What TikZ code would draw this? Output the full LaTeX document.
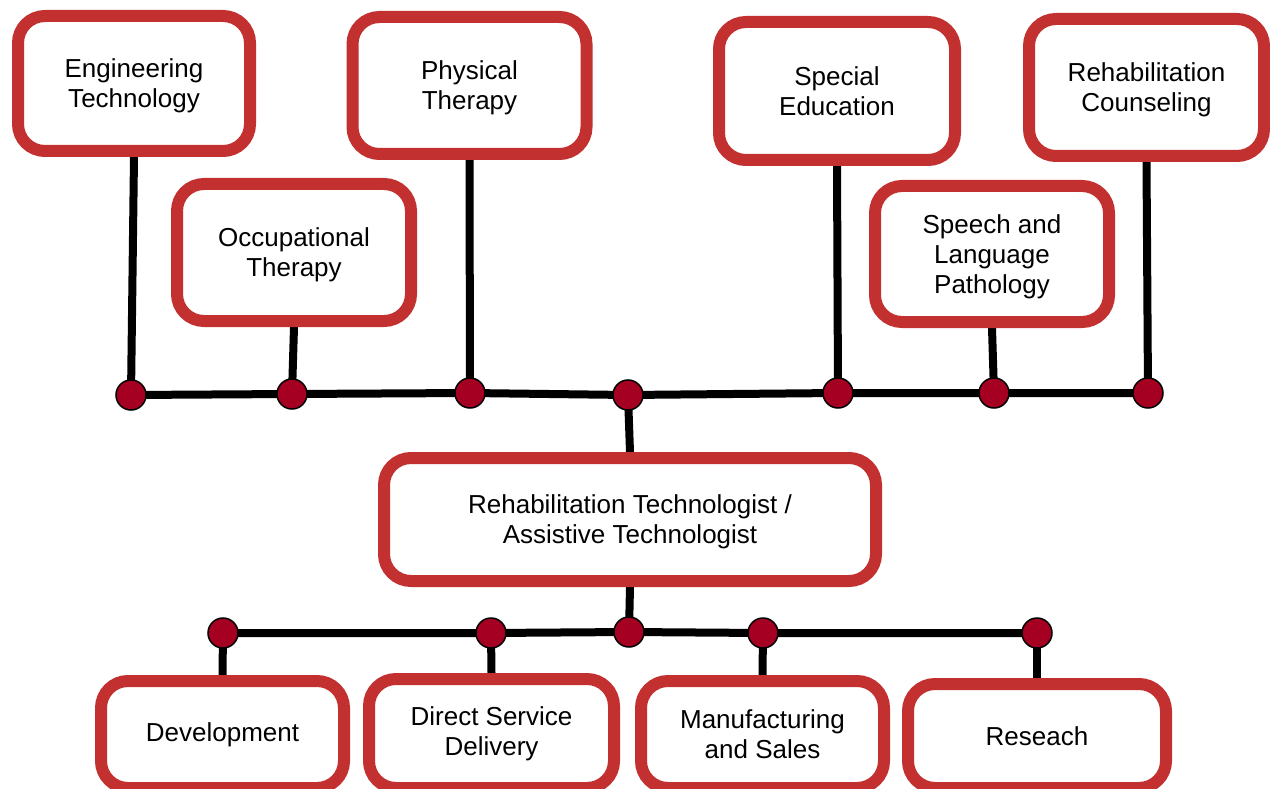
\documentclass[tikz,border=0pt]{standalone}
\usepackage{fontspec}
\setmainfont{Liberation Sans}
\usetikzlibrary{backgrounds}
\definecolor{boxred}{RGB}{194,48,48}
\definecolor{dotred}{RGB}{165,0,33}
\newcommand{\tst}{\vrule width 0pt height 23.5pt\relax}
\tikzset{
  rbox/.style={draw=boxred, line width=12pt, rounded corners=27pt, fill=white,
    align=center, inner sep=0pt, font=\fontsize{26}{30}\selectfont},
  rdot/.style={circle, draw=black, line width=1.5pt, fill=dotred,
    minimum size=30pt, inner sep=0pt},
  conn/.style={line width=8pt, black}
}
\begin{document}
\begin{tikzpicture}[x=1pt,y=-1pt]
\useasboundingbox (0,0) rectangle (1270,789);
% top boxes
\node[rbox, minimum width=232pt, minimum height=135pt] (eng) at (134,83.5) {\tst Engineering\\Technology};
\node[rbox, minimum width=234pt, minimum height=137pt] (phys) at (469.5,85.5) {\tst Physical\\Therapy};
\node[rbox, minimum width=236pt, minimum height=138pt] (sped) at (837,91) {Special\\Education};
\node[rbox, minimum width=235pt, minimum height=137pt] (rcoun) at (1146.5,87.5) {\tst Rehabilitation\\Counseling};
\node[rbox, minimum width=234pt, minimum height=137pt] (occ) at (294,252.5) {\tst Occupational\\Therapy};
\node[rbox, minimum width=234pt, minimum height=136pt] (slp) at (992,254) {\tst Speech and\\Language\\Pathology};
% main
\node[rbox, minimum width=492pt, minimum height=123pt] (main) at (630,519.5) {\tst Rehabilitation Technologist /\\Assistive Technologist};
% bottom boxes
\node[rbox, minimum width=243pt, minimum height=107pt] (dev) at (222.5,734.5) {Development};
\node[rbox, minimum width=245pt, minimum height=109pt] (dsd) at (491.5,733.5) {Direct Service\\Delivery};
\node[rbox, minimum width=243pt, minimum height=107pt] (man) at (762.5,734.5) {Manufacturing\\and Sales};
\node[rbox, minimum width=258pt, minimum height=104pt] (res) at (1037,736) {Reseach};
% top dots
\node[rdot] (t1) at (131,395) {};
\node[rdot] (t2) at (292,394) {};
\node[rdot] (t3) at (470,393) {};
\node[rdot] (t4) at (628,395) {};
\node[rdot] (t5) at (838,393) {};
\node[rdot] (t6) at (994,393) {};
\node[rdot] (t7) at (1148,393) {};
% bottom dots
\node[rdot] (b1) at (223,633) {};
\node[rdot] (b2) at (491,633) {};
\node[rdot] (b3) at (629,632) {};
\node[rdot] (b4) at (763,633) {};
\node[rdot] (b5) at (1037,633) {};
\begin{scope}[on background layer]
  \draw[conn] (t1.center) -- (t2.center) -- (t3.center) -- (t4.center) -- (t5.center) -- (t6.center) -- (t7.center);
  \draw[conn] (eng.south) -- (t1.center);
  \draw[conn] (occ.south) -- (t2.center);
  \draw[conn] (phys.south) -- (t3.center);
  \draw[conn] (sped.south) -- (t5.center);
  \draw[conn] (slp.south) -- (t6.center);
  \draw[conn] (rcoun.south) -- (t7.center);
  \draw[conn] (t4.center) -- (main.north);
  \draw[conn] (main.south) -- (b3.center);
  \draw[conn] (b1.center) -- (b2.center) -- (b3.center) -- (b4.center) -- (b5.center);
  \draw[conn] (b1.center) -- (dev.north);
  \draw[conn] (b2.center) -- (dsd.north);
  \draw[conn] (b4.center) -- (man.north);
  \draw[conn] (b5.center) -- (res.north);
\end{scope}
\end{tikzpicture}
\end{document}
